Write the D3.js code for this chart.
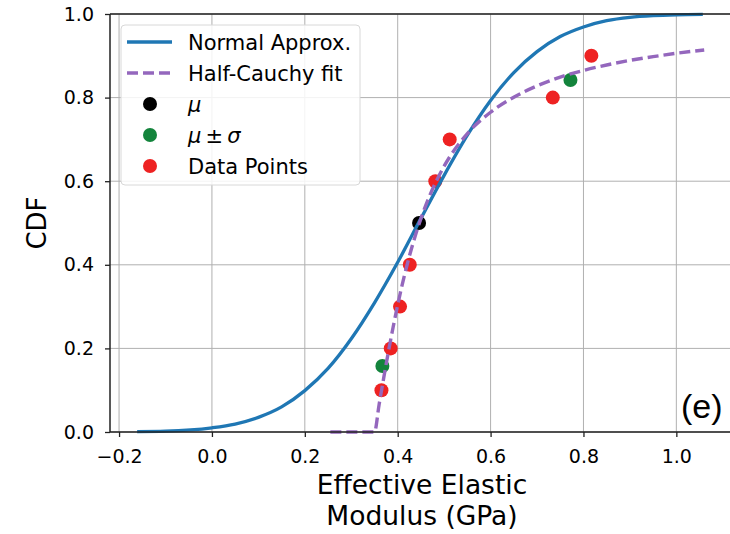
<!DOCTYPE html>
<meta charset="utf-8">
<style>
body { margin: 0; background: #fff; }
svg { font-family: "DejaVu Sans", sans-serif; }
.grid line { stroke: #b0b0b0; stroke-width: 1; }
</style>
<svg width="730" height="534"></svg>
<script src="https://cdnjs.cloudflare.com/ajax/libs/d3/7.8.5/d3.min.js"></script>
<script>

// normal approximation curve
var normalX = [-0.161, -0.1, 0.0, 0.05, 0.1, 0.15, 0.2, 0.25, 0.3, 0.35, 0.4, 0.45, 0.5,
               0.55, 0.6, 0.65, 0.7, 0.75, 0.8, 0.85, 0.9, 0.95, 1.0, 1.057];
var normalY = [0.001, 0.002, 0.010, 0.019, 0.035, 0.060, 0.099, 0.152, 0.223, 0.309, 0.406, 0.511, 0.614,
               0.710, 0.793, 0.860, 0.910, 0.946, 0.969, 0.984, 0.992, 0.996, 0.998, 0.999];

// half-cauchy fit curve
var cauchyX = [0.255, 0.35, 0.36, 0.37, 0.38, 0.39, 0.40, 0.42, 0.44, 0.46, 0.48, 0.50,
               0.55, 0.60, 0.65, 0.70, 0.75, 0.80, 0.85, 0.90, 0.95, 1.00, 1.06];
var cauchyY = [0, 0, 0.066, 0.130, 0.192, 0.250, 0.304, 0.399, 0.477, 0.541, 0.593, 0.636,
               0.714, 0.765, 0.801, 0.828, 0.849, 0.865, 0.878, 0.889, 0.898, 0.906, 0.914];

var muX = [0.446], muY = [0.5];
var sigmaX = [0.367, 0.772], sigmaY = [0.158, 0.842];
var dataX = [0.365, 0.385, 0.405, 0.426, 0.481, 0.512, 0.734, 0.817];
var dataY = [0.1, 0.2, 0.3, 0.4, 0.6, 0.7, 0.8, 0.9];

var xTicks = [-0.2, 0.0, 0.2, 0.4, 0.6, 0.8, 1.0];
var yTicks = [0.0, 0.2, 0.4, 0.6, 0.8, 1.0];

var svg = d3.select("svg");

var plotL = 110, plotR = 733, plotT = 14, plotB = 432;

var x = d3.scaleLinear().domain([-0.2195, 1.122]).range([plotL, plotR]);
var y = d3.scaleLinear().domain([0, 1]).range([plotB, plotT]);

// grid
var grid = svg.append("g").attr("class", "grid");
grid.selectAll(".gx").data(xTicks).enter().append("line")
    .attr("x1", function(d) { return x(d); }).attr("x2", function(d) { return x(d); })
    .attr("y1", plotT).attr("y2", plotB);
grid.selectAll(".gy").data(yTicks).enter().append("line")
    .attr("x1", plotL).attr("x2", plotR)
    .attr("y1", function(d) { return y(d); }).attr("y2", function(d) { return y(d); });

// markers go under the lines
function dots(xs, ys, color) {
  svg.append("g").selectAll("circle")
      .data(xs)
      .enter().append("circle")
      .attr("cx", function(d) { return x(d); })
      .attr("cy", function(d, i) { return y(ys[i]); })
      .attr("r", 7)
      .attr("fill", color);
}
dots(muX, muY, "#000000");
dots(sigmaX, sigmaY, "#13843c");
dots(dataX, dataY, "#ee2222");

var line = d3.line()
    .x(function(d) { return x(d[0]); })
    .y(function(d) { return y(d[1]); })
    .curve(d3.curveMonotoneX);

svg.append("path")
    .datum(d3.zip(normalX, normalY))
    .attr("d", line)
    .attr("fill", "none")
    .attr("stroke", "#1f77b4")
    .attr("stroke-width", 3.3);

svg.append("path")
    .datum(d3.zip(cauchyX, cauchyY))
    .attr("d", line)
    .attr("fill", "none")
    .attr("stroke", "#9467bd")
    .attr("stroke-width", 3.4)
    .attr("stroke-dasharray", "11,5");

// axes
var xAxis = svg.append("g")
    .attr("transform", "translate(0," + plotB + ")")
    .call(d3.axisBottom(x).tickValues(xTicks).tickSize(5).tickPadding(13)
      .tickFormat(d3.format(".1f")));
var yAxis = svg.append("g")
    .attr("transform", "translate(" + plotL + ",0)")
    .call(d3.axisLeft(y).tickValues(yTicks).tickSize(5).tickPadding(11)
      .tickFormat(d3.format(".1f")));

[xAxis, yAxis].forEach(function(a) {
  a.attr("font-family", null).attr("font-size", null);
  a.select(".domain").remove();
  a.selectAll(".tick line").attr("stroke", "#222").attr("stroke-width", 1.3);
  a.selectAll(".tick text")
      .style("font-family", "DejaVu Sans")
      .style("font-size", "19px")
      .attr("fill", "#000");
});

// spines
var spines = [[plotL, plotT, plotL, plotB], [plotL, plotB, plotR, plotB],
              [plotL, plotT, plotR, plotT], [plotR, plotT, plotR, plotB]];
spines.forEach(function(s) {
  svg.append("line")
      .attr("x1", s[0]).attr("y1", s[1]).attr("x2", s[2]).attr("y2", s[3])
      .attr("stroke", "#222").attr("stroke-width", 1.5);
});

// axis labels
svg.append("text")
    .attr("x", 422).attr("y", 494)
    .attr("text-anchor", "middle")
    .style("font-size", "26.5px")
    .text("Effective Elastic");
svg.append("text")
    .attr("x", 422).attr("y", 525)
    .attr("text-anchor", "middle")
    .style("font-size", "26.5px")
    .text("Modulus (GPa)");

svg.append("text")
    .attr("transform", "translate(46,223) rotate(-90)")
    .attr("text-anchor", "middle")
    .style("font-size", "26px")
    .text("CDF");

svg.append("text")
    .attr("x", 681).attr("y", 418)
    .style("font-family", "Liberation Sans")
    .style("font-size", "34px")
    .text("(e)");

// legend
var legend = svg.append("g");
legend.append("rect")
    .attr("x", 121).attr("y", 25).attr("width", 239).attr("height", 160)
    .attr("rx", 4)
    .attr("fill", "#fff").attr("fill-opacity", 0.85)
    .attr("stroke", "#d8d8d8").attr("stroke-width", 1);

var entries = [
  {label: "Normal Approx.", kind: "line", color: "#1f77b4"},
  {label: "Half-Cauchy fit", kind: "dash", color: "#9467bd"},
  {label: "μ", kind: "dot", color: "#000000", italic: true},
  {label: "μ\u2009±\u2009σ", kind: "dot", color: "#13843c", italic: true},
  {label: "Data Points", kind: "dot", color: "#ee2222"}
];

entries.forEach(function(e, i) {
  var cy = 42 + i * 31;
  if (e.kind == "dot") {
    legend.append("circle").attr("cx", 150).attr("cy", cy).attr("r", 7).attr("fill", e.color);
  } else {
    legend.append("line")
        .attr("x1", 127).attr("x2", 172).attr("y1", cy).attr("y2", cy)
        .attr("stroke", e.color).attr("stroke-width", 3.3)
        .attr("stroke-dasharray", e.kind == "dash" ? "11,5" : null);
  }
  legend.append("text")
      .attr("x", 188).attr("y", cy + 8)
      .style("font-size", "21px")
      .style("font-style", e.italic ? "italic" : "normal")
      .text(e.label);
});

</script>
